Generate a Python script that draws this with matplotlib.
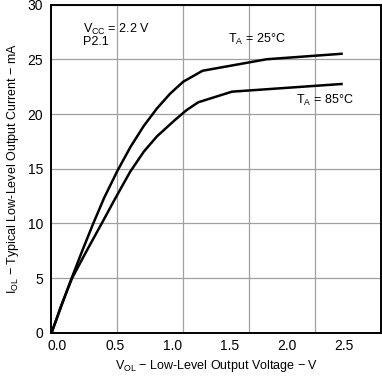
from matplotlib import pyplot as plt
import numpy as np

plt.rcParams['font.family'] = ['Liberation Sans', 'DejaVu Sans']
plt.rcParams['mathtext.fontset'] = 'custom'
plt.rcParams['mathtext.rm'] = 'Liberation Sans'
plt.rcParams['mathtext.it'] = 'Liberation Sans'

# Data (V, mA), x in gridline units
v_25 = [0.0, 0.07, 0.14, 0.23, 0.317, 0.40, 0.50, 0.60, 0.70, 0.80, 0.90, 1.0, 1.147, 1.633, 2.202]
i_25 = [0.0, 2.3, 4.6, 7.4, 10.0, 12.35, 14.8, 17.0, 18.9, 20.5, 21.85, 22.95, 23.95, 25.0, 25.5]
v_85 = [0.0, 0.075, 0.156, 0.26, 0.381, 0.48, 0.596, 0.70, 0.80, 0.937, 1.026, 1.114, 1.370, 2.202]
i_85 = [0.0, 2.55, 5.0, 7.35, 10.0, 12.2, 14.7, 16.55, 17.95, 19.45, 20.36, 21.07, 22.04, 22.74]

# tick labels sit a bit off the gridlines in the original
xtick_pos = [0.0455, 0.481, 0.917, 1.352, 1.788, 2.224]
xtick_lab = ['0.0', '0.5', '1.0', '1.5', '2.0', '2.5']
ygrid = np.arange(0, 31, 5)

fig = plt.figure(figsize=(3.82, 3.76), dpi=100)
ax = fig.add_axes([0.1348, 0.1144, 0.862, 0.8736])

ax.plot(v_25, i_25, color='black', lw=1.8)
ax.plot(v_85, i_85, color='black', lw=1.8)

ax.set_xlim(0, 2.5)
ax.set_ylim(0, 30)
ax.set_xticks(xtick_pos)
ax.set_xticklabels(xtick_lab)
ax.set_xticks([0.5, 1.0, 1.5, 2.0], minor=True)
ax.set_yticks(ygrid)
ax.grid(which='minor', axis='x', color='#a0a0a0', lw=0.9)
ax.grid(which='major', axis='y', color='#a0a0a0', lw=0.9)
ax.tick_params(which='both', length=0, labelsize=10)
ax.tick_params(axis='x', pad=4)
ax.tick_params(axis='y', pad=6)
for s in ax.spines.values():
    s.set_linewidth(1.4)

fs = 9
ax.text(0.237, 27.4, r'V$_{\rm CC}$ = 2.2 V', fontsize=fs)
ax.text(0.237, 26.3, 'P2.1', fontsize=fs)
ax.text(1.342, 26.45, r'T$_{\rm A}$ = 25°C', fontsize=fs)
ax.text(1.86, 20.9, r'T$_{\rm A}$ = 85°C', fontsize=fs)

ax.set_xlabel(r'V$_{\rm OL}$ − Low-Level Output Voltage − V', fontsize=fs, labelpad=4)
ax.set_ylabel(r'I$_{\rm OL}$ − Typical Low-Level Output Current − mA', fontsize=fs, labelpad=5)

fig.savefig('out.png', dpi=100)
